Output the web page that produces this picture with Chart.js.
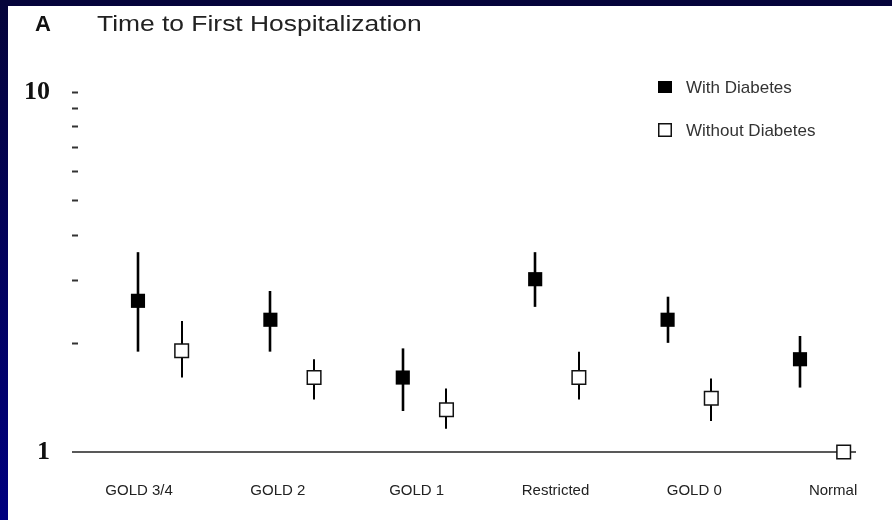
<!DOCTYPE html>
<html>
<head>
<meta charset="utf-8">
<script src="https://cdn.jsdelivr.net/npm/chart.js@4.4.1/dist/chart.umd.min.js"></script>
<style>
  html, body { margin: 0; padding: 0; background: #00004a; }
  canvas { display: block; }
</style>
</head>
<body>
<canvas id="c" width="892" height="520"></canvas>
<script>
// Hazard ratios (log scale) with 95% confidence limits, by lung-function group
const groups = ['GOLD 3/4', 'GOLD 2', 'GOLD 1', 'Restricted', 'GOLD 0', 'Normal'];
const seriesNames = ['With Diabetes', 'Without Diabetes'];

const withDiabetes      = [2.63, 2.33, 1.61, 3.02, 2.33, 1.81];
const withDiabetesLow   = [1.90, 1.90, 1.30, 2.53, 2.01, 1.51];
const withDiabetesHigh  = [3.59, 2.80, 1.94, 3.59, 2.70, 2.10];

const withoutDiabetes     = [1.91, 1.61, 1.31, 1.61, 1.41, 1.00];
const withoutDiabetesLow  = [1.61, 1.40, 1.16, 1.40, 1.22, null];
const withoutDiabetesHigh = [2.31, 1.81, 1.50, 1.90, 1.60, null];

const yTickValues = [1, 2, 3, 4, 5, 6, 7, 8, 9, 10];
const yTickLabels = { 1: '1', 10: '10' };

// the "without" marker sits a little to the right of its group
const OPEN_SHIFT = 0.33;

const panelBackground = {
  id: 'panelBackground',
  beforeDraw(chart) {
    const { ctx, width, height } = chart;
    ctx.save();
    const g = ctx.createLinearGradient(0, 0, 0, height);
    g.addColorStop(0, '#05043a');
    g.addColorStop(1, '#00007f');
    ctx.fillStyle = g;
    ctx.fillRect(0, 0, width, height);
    ctx.fillStyle = '#ffffff';
    ctx.fillRect(8, 6, width - 8, height - 6);
    ctx.restore();
  }
};

const errorBars = {
  id: 'errorBars',
  beforeDatasetsDraw(chart) {
    const { ctx } = chart;
    const x = chart.scales.x, y = chart.scales.y;
    ctx.save();
    // reference line at a ratio of 1
    const y1 = y.getPixelForValue(1);
    ctx.strokeStyle = '#222';
    ctx.lineWidth = 1.5;
    ctx.beginPath();
    ctx.moveTo(72, y1);
    ctx.lineTo(chart.chartArea.right, y1);
    ctx.stroke();

    chart.data.datasets.forEach(ds => {
      ctx.strokeStyle = '#000';
      ctx.lineWidth = ds.errorWidth;
      ds.data.forEach((pt, i) => {
        const lo = ds.lower[i], hi = ds.upper[i];
        if (lo == null || hi == null) return;
        const px = Math.round(x.getPixelForValue(pt.x));
        ctx.beginPath();
        ctx.moveTo(px, y.getPixelForValue(lo));
        ctx.lineTo(px, y.getPixelForValue(hi));
        ctx.stroke();
      });
    });
    ctx.restore();
  }
};

const headerAndKey = {
  id: 'headerAndKey',
  afterDraw(chart) {
    const { ctx } = chart;
    ctx.save();
    ctx.fillStyle = '#111';
    ctx.textBaseline = 'alphabetic';
    ctx.font = 'bold 22px "Liberation Sans", Arial, sans-serif';
    ctx.fillText('A', 35, 31);

    ctx.fillStyle = '#222';
    ctx.font = '22px "Liberation Sans", Arial, sans-serif';
    ctx.save();
    ctx.translate(97, 31);
    ctx.scale(1.2, 1);
    ctx.fillText('Time to First Hospitalization', 0, 0);
    ctx.restore();

    // key
    const items = chart.data.datasets;
    const rows = [87, 130];
    items.forEach((ds, i) => {
      const cy = rows[i];
      ctx.lineWidth = 1.5;
      if (ds.backgroundColor === '#000') {
        ctx.fillStyle = '#000';
        ctx.fillRect(658, cy - 6, 14, 12);
      } else {
        ctx.fillStyle = '#fff';
        ctx.strokeStyle = '#111';
        ctx.fillRect(658.75, cy - 6.25, 12.5, 12.5);
        ctx.strokeRect(658.75, cy - 6.25, 12.5, 12.5);
      }
      ctx.fillStyle = '#333';
      ctx.font = '17px "Liberation Sans", Arial, sans-serif';
      ctx.textBaseline = 'middle';
      ctx.fillText(ds.label, 686, cy + 1);
    });
    ctx.restore();
  }
};

new Chart(document.getElementById('c'), {
  type: 'scatter',
  data: {
    datasets: [
      {
        label: seriesNames[0],
        data: groups.map((g, i) => ({ x: i, y: withDiabetes[i] })),
        lower: withDiabetesLow,
        upper: withDiabetesHigh,
        errorWidth: 2.6,
        pointStyle: 'rect',
        pointRadius: 10,
        backgroundColor: '#000',
        borderColor: '#000',
        borderWidth: 0,
        clip: false
      },
      {
        label: seriesNames[1],
        data: groups.map((g, i) => ({ x: i + OPEN_SHIFT, y: withoutDiabetes[i] })),
        lower: withoutDiabetesLow,
        upper: withoutDiabetesHigh,
        errorWidth: 2,
        pointStyle: 'rect',
        pointRadius: 9.6,
        backgroundColor: '#fff',
        borderColor: '#111',
        borderWidth: 1.5,
        clip: false
      }
    ]
  },
  options: {
    responsive: false,
    animation: false,
    events: [],
    layout: { padding: { top: 92, right: 36, left: 0, bottom: 0 } },
    plugins: { legend: { display: false }, tooltip: { enabled: false } },
    scales: {
      x: {
        type: 'linear',
        min: -0.453,
        max: 5.423,
        display: false
      },
      groupAxis: {
        type: 'linear',
        axis: 'x',
        position: 'bottom',
        min: -0.44,
        max: 5.165,
        afterBuildTicks(s) { s.ticks = groups.map((g, i) => ({ value: i })); },
        afterFit(s) { s.height = 68; },
        grid: { display: false },
        border: { display: false },
        ticks: {
          autoSkip: false,
          maxRotation: 0,
          padding: 22,
          color: '#222',
          font: { family: '"Liberation Sans", Arial, sans-serif', size: 15 },
          callback: v => groups[v]
        }
      },
      y: {
        type: 'logarithmic',
        position: 'left',
        min: 1,
        max: 10,
        afterBuildTicks(s) { s.ticks = yTickValues.map(v => ({ value: v })); },
        afterFit(s) { s.width = 78; },
        border: { display: false },
        grid: {
          drawOnChartArea: false,
          drawTicks: true,
          tickLength: 6,
          tickWidth: 2,
          tickColor: c => (c.tick && c.tick.value === 1) ? 'rgba(0,0,0,0)' : '#333'
        },
        ticks: {
          autoSkip: false,
          padding: 22,
          color: '#111',
          font: { family: '"Liberation Serif", "Times New Roman", serif', size: 26, weight: 'bold' },
          callback: v => yTickLabels[v] || ''
        }
      }
    }
  },
  plugins: [panelBackground, errorBars, headerAndKey]
});
</script>
</body>
</html>
